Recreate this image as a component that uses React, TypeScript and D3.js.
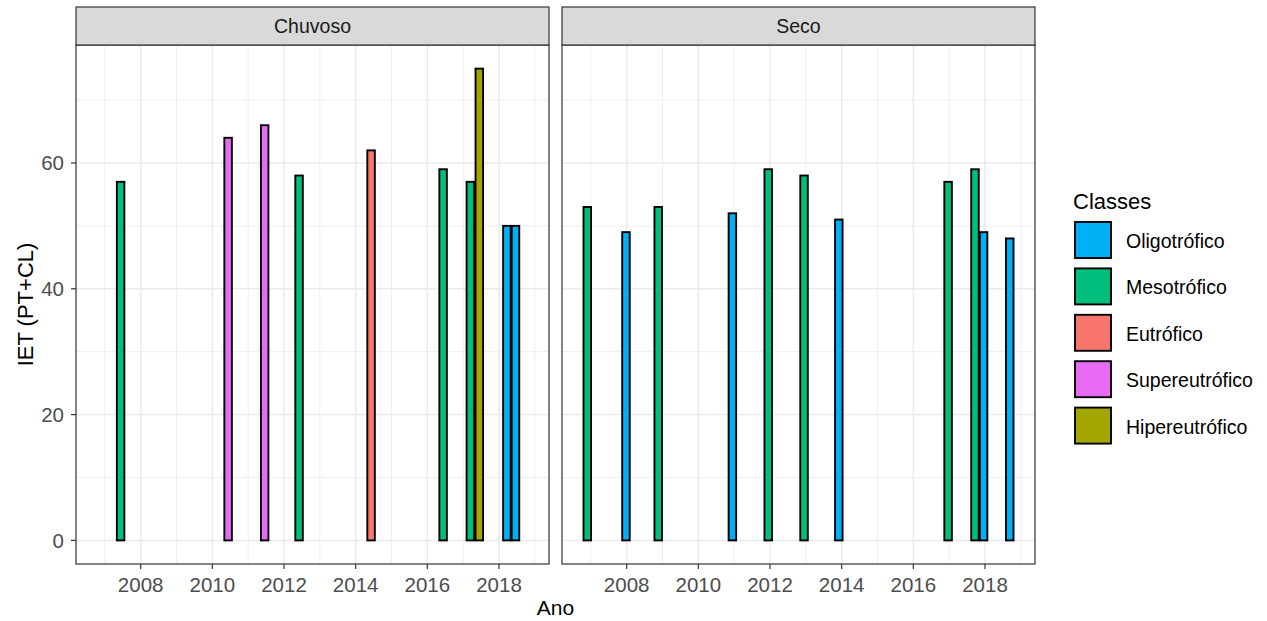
import React from "react";
import * as d3 from "d3";

// IET por ano, separado por período (Chuvoso / Seco)
const classes = ["Oligotrófico", "Mesotrófico", "Eutrófico", "Supereutrófico", "Hipereutrófico"];
const classColors = ["#00B0F6", "#00BF7D", "#F8766D", "#E76BF3", "#A3A500"];

const chuvosoYears = [2007.44, 2010.44, 2011.46, 2012.42, 2014.43, 2016.44, 2017.2, 2017.45, 2018.22, 2018.46];
const chuvosoIET = [57, 64, 66, 58, 62, 59, 57, 75, 50, 50];
const chuvosoClass = [
  "Mesotrófico", "Supereutrófico", "Supereutrófico", "Mesotrófico", "Eutrófico",
  "Mesotrófico", "Mesotrófico", "Hipereutrófico", "Oligotrófico", "Oligotrófico",
];

const secoYears = [2006.9, 2007.98, 2008.88, 2010.95, 2011.95, 2012.95, 2013.92, 2016.97, 2017.72, 2017.96, 2018.69];
const secoIET = [53, 49, 53, 52, 59, 58, 51, 57, 59, 49, 48];
const secoClass = [
  "Mesotrófico", "Oligotrófico", "Mesotrófico", "Oligotrófico", "Mesotrófico", "Mesotrófico",
  "Oligotrófico", "Mesotrófico", "Mesotrófico", "Oligotrófico", "Oligotrófico",
];

const xTicks = [2008, 2010, 2012, 2014, 2016, 2018];
const xMinor = [2007, 2009, 2011, 2013, 2015, 2017, 2019];
const yTicks = [0, 20, 40, 60];
const yMinor = [10, 30, 50, 70];

const panels = [
  { name: "Chuvoso", years: chuvosoYears, values: chuvosoIET, cls: chuvosoClass },
  { name: "Seco", years: secoYears, values: secoIET, cls: secoClass },
];

const W = 1267;
const H = 621;
const BAR_W = 0.21; // largura da barra em anos
const FONT = "'Liberation Sans', Arial, Helvetica, sans-serif";

const stripTop = 7;
const stripBottom = 45;
const panelBottom = 564;
const panelLefts = [76, 562];
const panelWidth = 473;

export default function App() {
  const allYears = chuvosoYears.concat(secoYears);
  const lo = d3.min(allYears)! - BAR_W / 2;
  const hi = d3.max(allYears)! + BAR_W / 2;
  const pad = (hi - lo) * 0.05;

  const allVals = chuvosoIET.concat(secoIET);
  const yMax = d3.max(allVals)!;
  const yPad = yMax * 0.05;
  const y = d3.scaleLinear().domain([-yPad, yMax + yPad]).range([panelBottom, stripBottom]);

  const color = d3.scaleOrdinal<string, string>().domain(classes).range(classColors);

  const grid = "#EBEBEB";
  const border = "#333333";

  return (
    <svg width={W} height={H} style={{ position: "absolute", left: 0, top: 0, background: "#fff" }} fontFamily={FONT}>
      {panels.map((p, pi) => {
        const left = panelLefts[pi];
        const x = d3.scaleLinear().domain([lo - pad, hi + pad]).range([left, left + panelWidth]);
        const bw = x(lo + BAR_W) - x(lo);
        return (
          <g key={p.name}>
            <rect x={left} y={stripBottom} width={panelWidth} height={panelBottom - stripBottom} fill="#fff" />
            {/* grades */}
            {yMinor.map((v) => (
              <line key={"ym" + v} x1={left} x2={left + panelWidth} y1={y(v)} y2={y(v)} stroke={grid} strokeWidth={0.8} />
            ))}
            {xMinor.map((v) => (
              <line key={"xm" + v} x1={x(v)} x2={x(v)} y1={stripBottom} y2={panelBottom} stroke={grid} strokeWidth={0.8} />
            ))}
            {yTicks.map((v) => (
              <line key={"y" + v} x1={left} x2={left + panelWidth} y1={y(v)} y2={y(v)} stroke={grid} strokeWidth={1.5} />
            ))}
            {xTicks.map((v) => (
              <line key={"x" + v} x1={x(v)} x2={x(v)} y1={stripBottom} y2={panelBottom} stroke={grid} strokeWidth={1.5} />
            ))}
            {/* barras */}
            {p.years.map((yr, i) => (
              <rect
                key={i}
                x={x(yr) - bw / 2}
                y={y(p.values[i])}
                width={bw}
                height={y(0) - y(p.values[i])}
                fill={color(p.cls[i])}
                stroke="#000"
                strokeWidth={1.9}
              />
            ))}
            <rect x={left} y={stripBottom} width={panelWidth} height={panelBottom - stripBottom} fill="none" stroke={border} strokeWidth={1.2} />
            {/* faixa do painel */}
            <rect x={left} y={stripTop} width={panelWidth} height={stripBottom - stripTop} fill="#D9D9D9" stroke={border} strokeWidth={1.2} />
            <text x={left + panelWidth / 2} y={(stripTop + stripBottom) / 2} textAnchor="middle" dominantBaseline="central" fontSize={19.5} fill="#1A1A1A">
              {p.name}
            </text>
            {/* eixo x */}
            {xTicks.map((v) => (
              <g key={"xt" + v}>
                <line x1={x(v)} x2={x(v)} y1={panelBottom} y2={panelBottom + 5} stroke={border} strokeWidth={1.2} />
                <text x={x(v)} y={592} textAnchor="middle" fontSize={20.5} fill="#4D4D4D">
                  {v}
                </text>
              </g>
            ))}
          </g>
        );
      })}
      {/* eixo y */}
      {yTicks.map((v) => (
        <g key={"yt" + v}>
          <line x1={panelLefts[0] - 5} x2={panelLefts[0]} y1={y(v)} y2={y(v)} stroke={border} strokeWidth={1.2} />
          <text x={64} y={y(v)} textAnchor="end" dominantBaseline="central" fontSize={20.5} fill="#4D4D4D">
            {v}
          </text>
        </g>
      ))}
      <text transform={`translate(33,${(stripBottom + panelBottom) / 2}) rotate(-90)`} textAnchor="middle" fontSize={22} fill="#000">
        IET (PT+CL)
      </text>
      <text x={(panelLefts[0] + panelLefts[1] + panelWidth) / 2} y={615} textAnchor="middle" fontSize={21} fill="#000">
        Ano
      </text>
      {/* legenda */}
      <text x={1073} y={209} fontSize={22} fill="#000">
        Classes
      </text>
      {classes.map((c, i) => {
        const top = 222 + i * 46.4;
        return (
          <g key={c}>
            <rect x={1075} y={top} width={36} height={36} fill={color(c)} stroke="#000" strokeWidth={1.9} />
            <text x={1126} y={top + 19} dominantBaseline="central" fontSize={19.5} fill="#000">
              {c}
            </text>
          </g>
        );
      })}
    </svg>
  );
}
